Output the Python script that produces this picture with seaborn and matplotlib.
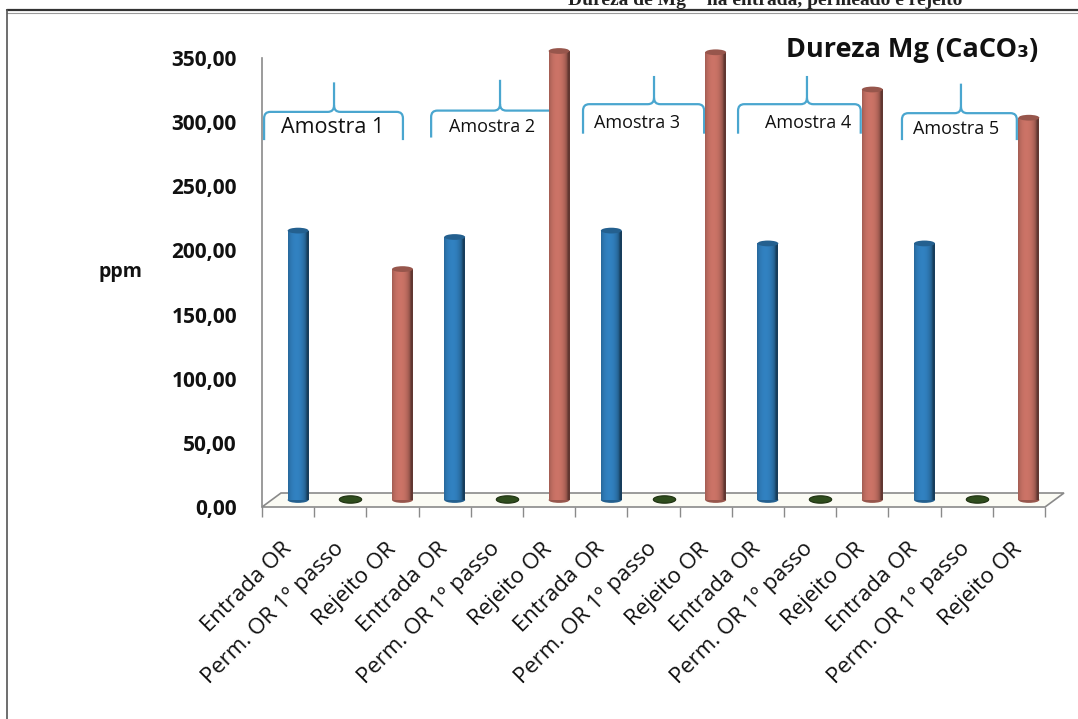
import numpy as np
import pandas as pd
import matplotlib
matplotlib.use("Agg")
import matplotlib.pyplot as plt
import matplotlib.colors as mcolors
from matplotlib.transforms import ScaledTranslation
from matplotlib.patches import Polygon, Ellipse, PathPatch, Rectangle
from matplotlib.path import Path
from matplotlib.lines import Line2D
from matplotlib.ticker import FuncFormatter, FixedLocator, NullFormatter
import seaborn as sns

# ---- data -------------------------------------------------------------
amostras = ["Amostra 1", "Amostra 2", "Amostra 3", "Amostra 4", "Amostra 5"]
pontos = ["Entrada OR", "Perm. OR 1º passo", "Rejeito OR"]
entrada = [210, 205, 210, 200, 200]
permeado = [0.5, 0.5, 0.5, 0.5, 0.5]
rejeito = [180, 350, 349, 320, 298]
y_ticks = [0, 50, 100, 150, 200, 250, 300, 350]

cor_entrada = "#1673bd"
cor_permeado = "#2f4d1d"
cor_rejeito = "#c05a4b"

rows = []
for i, am in enumerate(amostras):
    for j, (pt, serie) in enumerate(zip(pontos, [entrada, permeado, rejeito])):
        rows.append({"pos": 3 * i + j, "rotulo": pt, "amostra": am,
                     "valor": serie[i], "tipo": pt})
df = pd.DataFrame(rows)
n_cat = len(df)

# ---- figure ------------------------------------------------------------
sns.set_theme(style="white")
plt.rcParams["font.family"] = ["Open Sans", "DejaVu Sans"]

W, H = 1078, 719
fig = plt.figure(figsize=(W / 100, H / 100), dpi=100)
fig.patch.set_facecolor("white")

ax_l, ax_r, ax_b, ax_t = 262, 1045, 507, 58
ax = fig.add_axes([ax_l / W, 1 - ax_b / H, (ax_r - ax_l) / W, (ax_b - ax_t) / H])
ax.set_facecolor("none")

# depth shift of the bars (pseudo 3-D)
shift = ax.transData + ScaledTranslation(0.10, 0.07, fig.dpi_scale_trans)

# main bars: entrada and rejeito
df_bars = df[df["tipo"] != pontos[1]]
sns.barplot(data=df_bars, x="pos", y="valor", hue="tipo",
            order=list(range(n_cat)), hue_order=[pontos[0], pontos[2]],
            palette=[cor_entrada, cor_rejeito], dodge=False, width=0.4,
            legend=False, ax=ax, zorder=3, linewidth=0)


def cylinder(color, n=80):
    base = np.array(mcolors.to_rgb(color))
    t = np.linspace(-1, 1, n)
    light = 0.55 + 0.6 * np.sqrt(np.clip(1 - (t + 0.2) ** 2, 0, 1))
    rgb = np.clip(base[None, :] * light[:, None], 0, 1)
    return rgb[None, :, :]


bars = [p for p in ax.patches if isinstance(p, Rectangle) and p.get_height() > 0]
for p in bars:
    fc = p.get_facecolor()
    x0, w, h = p.get_x(), p.get_width(), p.get_height()
    p.set_transform(shift)
    p.set_clip_on(False)
    im = ax.imshow(cylinder(fc), extent=(x0, x0 + w, 0, h), aspect="auto",
                   transform=shift, zorder=3.1, interpolation="bilinear")
    im.set_clip_path(p)
    cap_col = np.clip(np.array(mcolors.to_rgb(fc)) * 0.85, 0, 1)
    cap = Ellipse((x0 + w / 2, h), w, 4.5, transform=shift, facecolor=cap_col,
                  edgecolor="none", zorder=3.2, clip_on=False)
    ax.add_patch(cap)
    base_cap = Ellipse((x0 + w / 2, 0), w, 4.5, transform=shift,
                       facecolor=cap_col, edgecolor="none", zorder=3.0,
                       clip_on=False)
    ax.add_patch(base_cap)

# floor of the 3-D plot
ddx, ddy = 19 / (ax_r - ax_l), 14 / (ax_b - ax_t)
floor = Polygon([(0, 0), (1, 0), (1 + ddx, ddy), (ddx, ddy)], closed=True,
                transform=ax.transAxes, facecolor="#fbfbf4", edgecolor="#8a8a8a",
                linewidth=1.2, clip_on=False, zorder=0.5)
ax.add_patch(floor)

# permeado values are almost zero: flat discs on the floor
theta = np.linspace(0, 2 * np.pi, 60)
disc = Path(np.column_stack([np.cos(theta), 0.33 * np.sin(theta)]), closed=True)
df_perm = df[df["tipo"] == pontos[1]]
sns.scatterplot(data=df_perm, x="pos", y="valor", marker=disc, s=260,
                color=cor_permeado, edgecolor="#1d3010", linewidth=0.8,
                legend=False, ax=ax, zorder=3)
for coll in ax.collections:
    coll.set_offset_transform(shift)
    coll.set_clip_on(False)

ax.set_xlim(-0.5, n_cat - 0.5)
ax.set_ylim(0, 350)

# ---- axes styling ------------------------------------------------------
for s in ["top", "right"]:
    ax.spines[s].set_visible(False)
ax.spines["left"].set_color("#8a8a8a")
ax.spines["left"].set_linewidth(1.2)
ax.spines["bottom"].set_visible(False)

ax.set_yticks(y_ticks)
ax.yaxis.set_major_formatter(FuncFormatter(lambda v, _: f"{v:.2f}".replace(".", ",")))
ax.tick_params(axis="y", which="major", direction="out", length=6, width=1,
               color="#8a8a8a", pad=12, labelsize=15, labelcolor="#111111")
for lab in ax.get_yticklabels():
    lab.set_fontweight("bold")

ax.set_xticks(range(n_cat))
ax.set_xticklabels(df["rotulo"], rotation=45, ha="right",
                   rotation_mode="anchor", va="center", fontsize=16,
                   color="#111111")
ax.xaxis.set_minor_locator(FixedLocator(np.arange(-0.5, n_cat, 1.0)))
ax.xaxis.set_minor_formatter(NullFormatter())
ax.tick_params(axis="x", which="major", length=0, pad=28)
ax.tick_params(axis="x", which="minor", direction="out", length=7, width=1,
               color="#8a8a8a", bottom=True)
ax.set_xlabel("")

ax.set_ylabel("ppm", rotation=0, fontsize=14, fontweight="bold",
              color="#111111")
ax.yaxis.set_label_coords(-0.181, 0.50)

# ---- sample braces -----------------------------------------------------
# (left, right, peak x, line y, top y, bottom y, label x, label y, size)
braces = [
    (-0.46, 2.20, 0.88, 308, 331, 286, 0.86, 296, 15.5),
    (2.74, 5.30, 4.06, 309, 333, 288, 3.91, 296, 13.0),
    (5.65, 7.97, 7.01, 314, 336, 291, 6.68, 299, 13.0),
    (8.62, 10.97, 9.94, 314, 336, 291, 9.96, 299, 13.0),
    (11.76, 13.96, 12.89, 307, 330, 286, 12.80, 295, 13.0),
]
brace_col = "#4aa6cf"
rx, ry = 0.12, 5
for (L, R, P, ly, ty, by, tx, tyy, fs), am in zip(braces, amostras):
    verts = [(L, by), (L, ly - ry), (L, ly), (L + rx, ly), (P - rx, ly),
             (P, ly), (P, ly + ry), (P, ty),
             (P, ly + ry), (P, ly), (P + rx, ly), (R - rx, ly),
             (R, ly), (R, ly - ry), (R, by)]
    codes = [Path.MOVETO, Path.LINETO, Path.CURVE3, Path.CURVE3, Path.LINETO,
             Path.CURVE3, Path.CURVE3, Path.LINETO,
             Path.MOVETO, Path.CURVE3, Path.CURVE3, Path.LINETO,
             Path.CURVE3, Path.CURVE3, Path.LINETO]
    ax.add_patch(PathPatch(Path(verts, codes), facecolor="none",
                           edgecolor=brace_col, linewidth=1.6, zorder=1.5,
                           clip_on=False))
    ax.text(tx, tyy, am, ha="center", va="center", fontsize=fs,
            color="#111111", zorder=1.6, clip_on=False)

# ---- texts and frame ---------------------------------------------------
fig.text((775 + 1050) / 2 / W, 1 - 50 / H, "Dureza Mg (CaCO₃)", ha="center",
         va="center", fontsize=19.5, fontweight="bold", color="#111111")

fig.text(962 / W, 1 - 5 / H, "Dureza de Mg²⁺ na entrada, permeado e rejeito",
         ha="right", va="baseline", fontsize=14, fontweight="bold",
         family=["Liberation Serif", "DejaVu Serif"], color="#222222")

fig.add_artist(Line2D([7 / W, 1], [1 - 10 / H, 1 - 10 / H],
                      transform=fig.transFigure, color="#333333", linewidth=1.6))
fig.add_artist(Line2D([7 / W, 1], [1 - 13 / H, 1 - 13 / H],
                      transform=fig.transFigure, color="#9a9a9a", linewidth=0.8))
fig.add_artist(Line2D([7 / W, 7 / W], [1 - 10 / H, 0],
                      transform=fig.transFigure, color="#555555", linewidth=1.2))

fig.savefig("out.png", dpi=100, facecolor="white")
